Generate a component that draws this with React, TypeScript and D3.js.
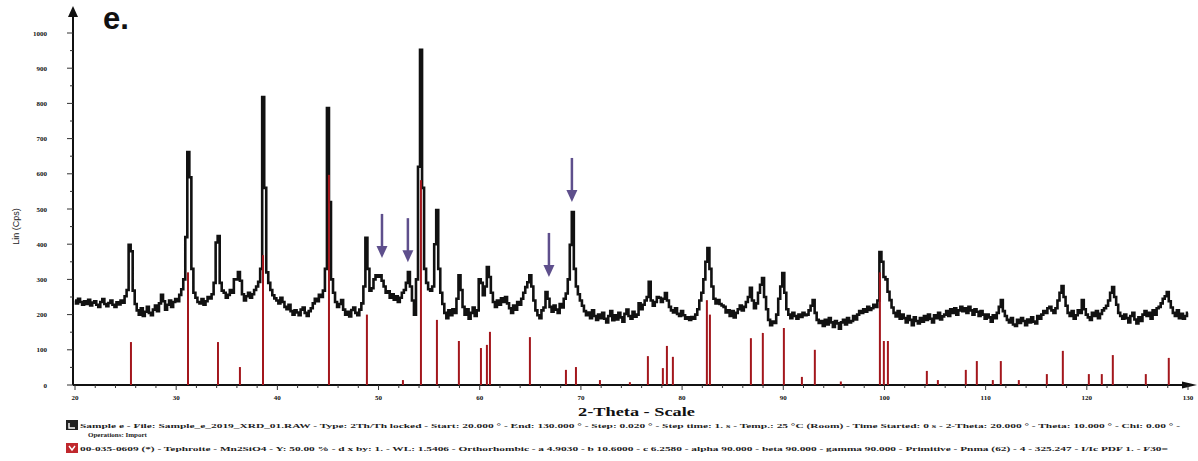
import React from "react";
import * as d3 from "d3";

// ---- scan (Lin counts), 2-Theta from 20.0 to 130.0 in 0.2 deg steps ----
const THETA_START = 20;
const THETA_STEP = 0.2;
const counts: number[] = [
  240, 232, 245, 236, 228, 238, 230, 242, 226, 234, // 20
  238, 228, 222, 236, 244, 230, 224, 233, 240, 228, // 22
  222, 235, 229, 240, 234, 252, 270, 398, 380, 268, // 24
  230, 212, 200, 218, 196, 208, 222, 205, 198, 214, // 26
  226, 210, 232, 256, 238, 214, 228, 240, 222, 236, // 28
  244, 238, 256, 272, 300, 420, 662, 590, 330, 262, // 30
  248, 236, 232, 244, 228, 238, 250, 246, 258, 290, // 32
  405, 423, 290, 268, 262, 248, 256, 270, 262, 300, // 34
  300, 321, 296, 258, 240, 252, 262, 248, 258, 270, // 36
  280, 293, 330, 818, 560, 320, 290, 270, 255, 246, // 38
  240, 232, 248, 236, 222, 215, 228, 210, 200, 212, // 40
  206, 198, 214, 220, 205, 196, 210, 218, 232, 245, // 42
  238, 256, 250, 268, 330, 787, 520, 300, 262, 236, // 44
  222, 230, 241, 214, 200, 208, 195, 213, 220, 205, // 46
  198, 214, 232, 280, 418, 330, 268, 275, 300, 312, // 48
  308, 312, 296, 280, 262, 266, 248, 258, 242, 252, // 50
  236, 248, 262, 270, 290, 321, 280, 240, 200, 300, // 52
  620, 952, 560, 330, 290, 272, 268, 280, 400, 497, // 54
  330, 262, 230, 205, 190, 212, 198, 215, 205, 245, // 56
  312, 270, 222, 200, 215, 188, 205, 220, 196, 212, // 58
  300, 290, 255, 280, 335, 307, 262, 236, 222, 240, // 60
  228, 246, 236, 250, 232, 218, 205, 226, 214, 236, // 62
  228, 245, 262, 278, 292, 312, 280, 240, 212, 198, // 64
  190, 212, 220, 264, 245, 222, 208, 226, 214, 205, // 66
  230, 220, 245, 260, 300, 398, 491, 330, 280, 258, // 68
  240, 225, 210, 198, 206, 190, 212, 196, 185, 200, // 70
  190, 205, 188, 178, 196, 210, 184, 198, 186, 205, // 72
  192, 180, 202, 214, 196, 188, 208, 194, 200, 232, // 74
  215, 228, 240, 250, 293, 240, 225, 236, 250, 248, // 76
  236, 245, 261, 240, 222, 212, 206, 218, 202, 196, // 78
  210, 198, 188, 192, 185, 193, 188, 200, 215, 240, // 80
  262, 300, 350, 389, 330, 280, 245, 232, 241, 230, // 82
  226, 222, 206, 212, 196, 210, 192, 205, 215, 226, // 84
  212, 222, 236, 250, 276, 240, 218, 232, 262, 285, // 86
  304, 250, 215, 185, 170, 180, 176, 200, 245, 280, // 88
  318, 262, 215, 200, 190, 205, 196, 188, 200, 193, // 90
  205, 198, 200, 212, 225, 241, 205, 185, 176, 182, // 92
  168, 185, 172, 190, 178, 165, 182, 175, 160, 178, // 94
  185, 172, 190, 178, 182, 196, 186, 200, 210, 205, // 96
  215, 208, 222, 213, 218, 228, 222, 240, 378, 350, // 98
  307, 300, 265, 241, 220, 205, 195, 210, 188, 200, // 100
  190, 178, 196, 185, 170, 192, 182, 175, 190, 180, // 102
  196, 185, 200, 188, 178, 198, 190, 205, 186, 195, // 104
  200, 210, 196, 215, 205, 218, 200, 212, 222, 210, // 106
  218, 205, 222, 212, 200, 215, 208, 196, 210, 200, // 108
  188, 200, 192, 180, 198, 190, 205, 222, 241, 210, // 110
  196, 185, 178, 190, 172, 168, 185, 176, 190, 182, // 112
  170, 186, 178, 192, 180, 175, 196, 188, 200, 210, // 114
  205, 218, 222, 212, 205, 218, 240, 262, 281, 250, // 116
  225, 205, 196, 210, 188, 198, 212, 205, 241, 215, // 118
  200, 192, 185, 205, 196, 210, 190, 202, 212, 218, // 120
  225, 240, 262, 278, 250, 228, 205, 196, 188, 200, // 122
  190, 178, 196, 205, 186, 175, 192, 182, 200, 210, // 124
  196, 205, 188, 212, 200, 218, 222, 232, 245, 252, // 126
  264, 238, 220, 205, 196, 212, 190, 202, 188, 196, // 128
  205, // 130
];

// ---- reference pattern sticks ----
const refTheta: number[] = [
  25.53, 31.17, 34.13, 36.3, 38.58, 45.1, 48.85, 52.41, 54.19, 55.77, 57.94, 60.12,
  60.71, 61.01, 64.96, 68.52, 69.51, 71.88, 74.84, 76.62, 78.1, 78.5, 79.09, 82.45,
  82.75, 86.8, 87.98, 90.06, 91.84, 93.12, 95.69, 99.55, 99.94, 100.34, 104.19,
  105.28, 108.04, 109.13, 110.71, 111.5, 113.28, 116.05, 117.63, 120.2, 121.48,
  122.57, 125.83, 128.1,
];
const refIntensity: number[] = [
  122, 320, 122, 51, 369, 597, 200, 14, 582, 185, 125, 105,
  114, 151, 136, 43, 51, 14, 8, 82, 48, 111, 80, 241,
  200, 133, 148, 162, 23, 100, 10, 320, 125, 125, 40,
  14, 43, 68, 14, 68, 14, 31, 97, 31, 31,
  85, 31, 77,
];

// ---- marked peaks (arrows): 2-theta and counts at arrow tip ----
const arrowTheta: number[] = [50.34, 52.9, 66.84, 69.11];
const arrowTip: number[] = [361, 349, 307, 520];

// ---- axes ----
const xTickLabels: number[] = [20, 30, 40, 50, 60, 70, 80, 90, 100, 110, 120, 130];
const yTickLabels: number[] = [0, 100, 200, 300, 400, 500, 600, 700, 800, 900, 1000];

const legendLine1 =
  "Sample e - File: Sample_e_2019_XRD_01.RAW - Type: 2Th/Th locked - Start: 20.000 \u00b0 - End: 130.000 \u00b0 - Step: 0.020 \u00b0 - Step time: 1. s - Temp.: 25 \u00b0C (Room) - Time Started: 0 s - 2-Theta: 20.000 \u00b0 - Theta: 10.000 \u00b0 - Chi: 0.00 \u00b0 -";
const legendLine2 = "Operations: Import";
const legendLine3 =
  "00-035-0609 (*) - Tephroite - Mn2SiO4 - Y: 50.00 % - d x by: 1. - WL: 1.5406 - Orthorhombic - a 4.9030 - b 10.6000 - c 6.2580 - alpha 90.000 - beta 90.000 - gamma 90.000 - Primitive - Pnma (62) - 4 - 325.247 - I/Ic PDF 1. - F30=";

const W = 1198;
const H = 461;

export default function App() {
  const x = d3.scaleLinear().domain([20, 130]).range([75, 1188]);
  const y = d3.scaleLinear().domain([0, 1000]).range([385, 33]);
  const x0 = 73;
  const y0 = 385;

  const scan: [number, number][] = counts.map((c, i) => [THETA_START + i * THETA_STEP, c]);
  const line = d3
    .line<[number, number]>()
    .x((d) => x(d[0]))
    .y((d) => y(d[1]))
    .curve(d3.curveStep);

  const xMinor = d3.range(20, 130.01, 2);
  const yMinor = d3.range(0, 1000.01, 50);

  const small = "'Liberation Serif', serif";

  return (
    <svg
      width={W}
      height={H}
      viewBox={`0 0 ${W} ${H}`}
      style={{ position: "fixed", left: 0, top: 0, background: "#fff" }}
    >
      <rect x={0} y={0} width={W} height={H} fill="#fff" />

      {/* panel letter */}
      <text x={103} y={29} fontFamily="'Liberation Sans', Arial, sans-serif" fontWeight="bold" fontSize={31} fill="#111">
        e.
      </text>

      {/* y axis */}
      <line x1={x0} x2={x0} y1={y0} y2={14} stroke="#111" strokeWidth={2} />
      <polygon points={`${x0},6 ${x0 - 5},17 ${x0 + 5},17`} fill="#111" />
      {yMinor.map((v) => (
        <line
          key={"ym" + v}
          x1={x0 - (v % 100 === 0 ? 6 : 3)}
          x2={x0}
          y1={y(v)}
          y2={y(v)}
          stroke="#333"
          strokeWidth={1}
        />
      ))}
      {yTickLabels.map((v) => (
        <text
          key={"yl" + v}
          x={47}
          y={y(v) + 2.5}
          textAnchor="end"
          fontFamily={small}
          fontWeight="bold"
          fontSize={7}
          fill="#111"
        >
          {v}
        </text>
      ))}
      <text
        transform={`translate(19,${y(450)}) rotate(-90)`}
        textAnchor="middle"
        fontFamily="'Liberation Sans', Arial, sans-serif"
        fontSize={9}
        fill="#222"
      >
        Lin (Cps)
      </text>

      {/* x axis */}
      <line x1={x0} x2={1190} y1={y0} y2={y0} stroke="#111" strokeWidth={2} />
      <polygon points={`1197,${y0} 1182,${y0 - 3.5} 1182,${y0 + 3.5}`} fill="#111" />
      {xMinor.map((v) => (
        <line
          key={"xm" + v}
          x1={x(v)}
          x2={x(v)}
          y1={y0}
          y2={y0 + (Math.abs(v % 10) < 0.01 ? 5 : 3)}
          stroke="#333"
          strokeWidth={1}
        />
      ))}
      {xTickLabels.map((v) => (
        <text
          key={"xl" + v}
          x={x(v)}
          y={400}
          textAnchor="middle"
          fontFamily={small}
          fontWeight="bold"
          fontSize={7}
          fill="#111"
        >
          {v}
        </text>
      ))}
      <text
        x={578}
        y={416}
        textLength={117}
        lengthAdjust="spacingAndGlyphs"
        fontFamily={small}
        fontWeight="bold"
        fontSize={12}
        fill="#111"
      >
        2-Theta - Scale
      </text>

      {/* measured scan */}
      <path
        d={line(scan) || ""}
        fill="none"
        stroke="#111"
        strokeWidth={2.6}
        strokeLinejoin="miter"
      />

      {/* reference sticks */}
      {refTheta.map((t, i) => (
        <line
          key={"ref" + i}
          x1={x(t)}
          x2={x(t)}
          y1={y0}
          y2={y(refIntensity[i])}
          stroke="#a3161c"
          strokeWidth={2}
        />
      ))}

      {/* arrows */}
      {arrowTheta.map((t, i) => {
        const ax = x(t);
        const tip = y(arrowTip[i]);
        return (
          <g key={"ar" + i}>
            <line x1={ax} x2={ax} y1={tip - 44} y2={tip - 9} stroke="#5e4f8c" strokeWidth={2.5} />
            <polygon
              points={`${ax - 5.5},${tip - 12} ${ax + 5.5},${tip - 12} ${ax},${tip}`}
              fill="#5e4f8c"
            />
          </g>
        );
      })}

      {/* legend */}
      <rect x={66} y={420} width={12} height={10} fill="#222" />
      <polyline points="69,423 69,428 75,428" fill="none" stroke="#fff" strokeWidth={1.4} />
      <text
        x={80}
        y={428}
        textLength={1100}
        lengthAdjust="spacingAndGlyphs"
        fontFamily={small}
        fontWeight="bold"
        fontSize={7}
        fill="#222"
      >
        {legendLine1}
      </text>
      <text x={88} y={437} fontFamily={small} fontWeight="bold" fontSize={7} fill="#222">
        {legendLine2}
      </text>
      <rect x={66} y={443} width={12} height={10} fill="#c0282d" />
      <polyline points="69,446 72,450 75,446" fill="none" stroke="#fff" strokeWidth={1.4} />
      <text
        x={80}
        y={451}
        textLength={1088}
        lengthAdjust="spacingAndGlyphs"
        fontFamily={small}
        fontWeight="bold"
        fontSize={7}
        fill="#222"
      >
        {legendLine3}
      </text>
    </svg>
  );
}
